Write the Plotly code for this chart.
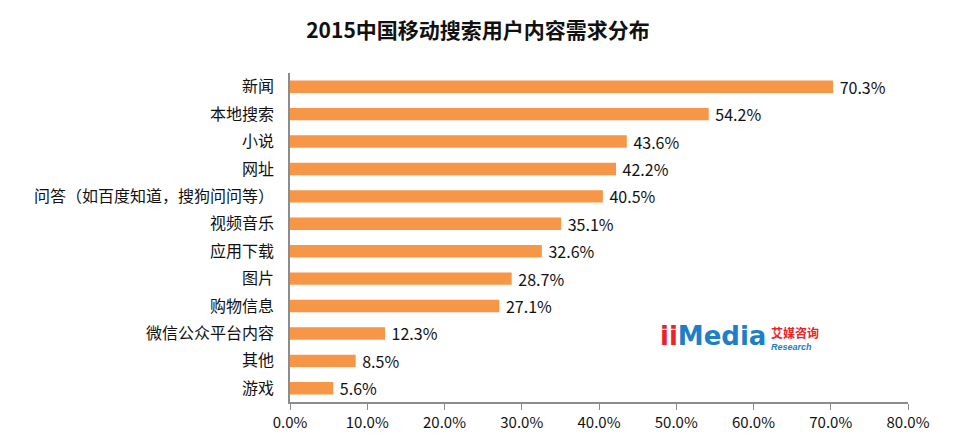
import plotly.graph_objects as go

categories = ["新闻", "本地搜索", "小说", "网址", "问答（如百度知道，搜狗问问等）", "视频音乐",
              "应用下载", "图片", "购物信息", "微信公众平台内容", "其他", "游戏"]
values = [70.3, 54.2, 43.6, 42.2, 40.5, 35.1, 32.6, 28.7, 27.1, 12.3, 8.5, 5.6]
x_ticks = [0, 10, 20, 30, 40, 50, 60, 70, 80]
x_tick_labels = [f"{v:.1f}%" for v in x_ticks]
title = "2015中国移动搜索用户内容需求分布"

FONT = "Noto Sans CJK SC"

fig = go.Figure(go.Bar(
    y=categories, x=values, orientation="h",
    marker=dict(color="#F79646", line=dict(width=0)),
    width=0.45,
    text=[f" {v:.1f}%" for v in values], textposition="outside",
    constraintext="none",
    textfont=dict(family=FONT, size=16, color="#111111"),
    cliponaxis=False,
))

fig.update_layout(
    width=956, height=444,
    margin=dict(l=290, r=48, t=73, b=42),
    paper_bgcolor="#FFFFFF", plot_bgcolor="rgba(0,0,0,0)",
    title=dict(text=f"<b>{title}</b>", x=0.5, xanchor="center", y=0.932, yanchor="middle",
               font=dict(family=FONT, size=21, color="#111111")),
    showlegend=False,
    xaxis=dict(range=[0, 80], tickvals=x_ticks, ticktext=x_tick_labels,
               showgrid=False, zeroline=False, showline=True, linecolor="#8C8C8C", linewidth=1.5,
               ticks="outside", ticklen=6, tickcolor="#8C8C8C",
               tickfont=dict(family=FONT, size=15, color="#111111")),
    yaxis=dict(categoryorder="array", categoryarray=categories, autorange="reversed",
               showgrid=False, zeroline=False, showline=True, linecolor="#8C8C8C", linewidth=1.5,
               ticks="", ticklabelstandoff=11,
               tickfont=dict(family=FONT, size=16, color="#111111")),
)

# watermark logo
fig.add_annotation(xref="paper", yref="paper", x=0.595, y=0.2, xanchor="left", yanchor="middle",
                   text="<b><span style='color:#E8232B'>ii</span><span style='color:#1E7FC7'>Media</span></b>",
                   showarrow=False, font=dict(family="DejaVu Sans", size=26))
fig.add_annotation(xref="paper", yref="paper", x=0.775, y=0.196, xanchor="left", yanchor="middle",
                   align="left",
                   text="<b><span style='color:#E8232B;font-size:12px;font-family:Noto Sans CJK SC'>艾媒咨询</span></b>"
                        "<br><i><b>Research</b></i>",
                   showarrow=False,
                   font=dict(family="Liberation Sans", size=9, color="#1E7FC7"))

fig.write_html("out.html", post_script="document.body.style.margin='0px';",
               config={"displayModeBar": False})
